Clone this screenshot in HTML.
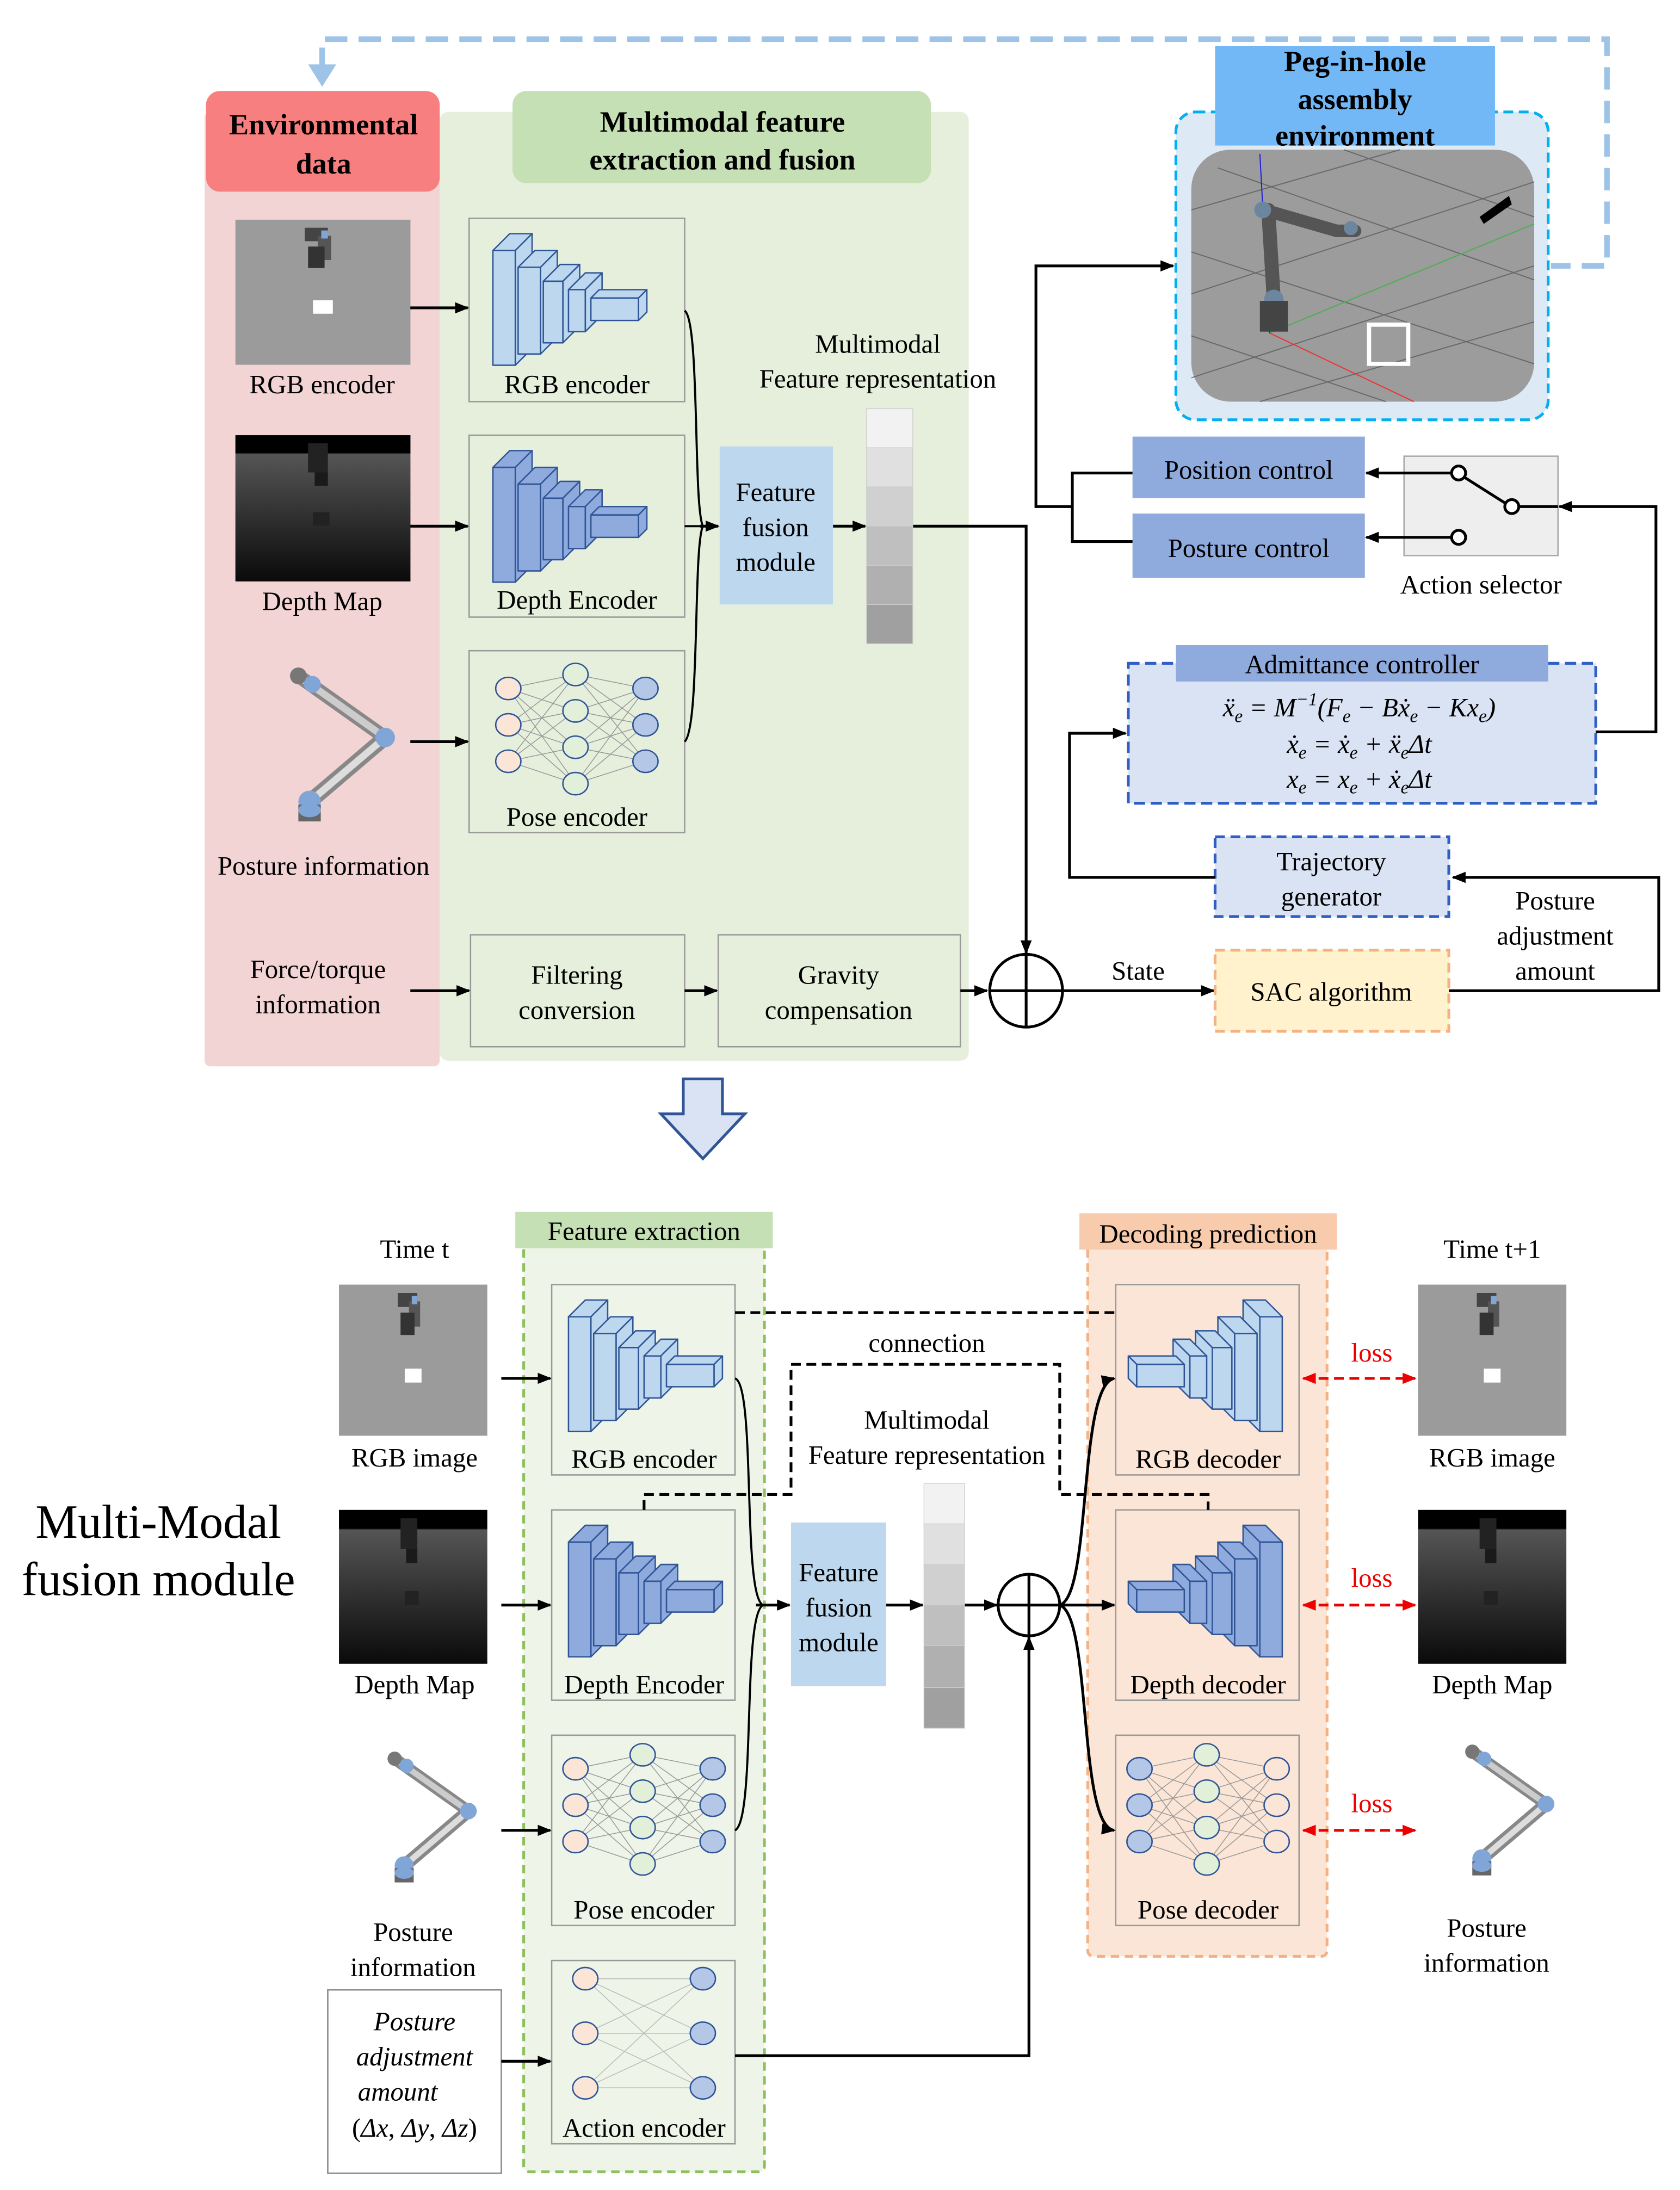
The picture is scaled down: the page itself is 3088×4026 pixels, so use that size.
<!DOCTYPE html>
<html><head><meta charset="utf-8"><style>
html,body{margin:0;padding:0;background:#fff}
svg{display:block}
text{font-family:"Liberation Serif",serif;fill:#000}
</style></head><body>
<svg width="3088" height="4026" viewBox="0 0 1200 1565" xmlns="http://www.w3.org/2000/svg">
<defs>
<marker id="ar" markerWidth="10" markerHeight="10" refX="9" refY="5" orient="auto" markerUnits="userSpaceOnUse"><path d="M0,1 L10,5 L0,9 z" fill="#000"/></marker>
<marker id="arr" markerWidth="10" markerHeight="10" refX="9" refY="5" orient="auto" markerUnits="userSpaceOnUse"><path d="M0,1 L10,5 L0,9 z" fill="#e00"/></marker>
<marker id="arrs" markerWidth="10" markerHeight="10" refX="1" refY="5" orient="auto" markerUnits="userSpaceOnUse"><path d="M10,1 L0,5 L10,9 z" fill="#e00"/></marker>
<linearGradient id="dep" x1="0" y1="0" x2="0" y2="1"><stop offset="0" stop-color="#000"/><stop offset="0.12" stop-color="#000"/><stop offset="0.13" stop-color="#555"/><stop offset="1" stop-color="#0a0a0a"/></linearGradient>
<symbol id="enc" overflow="visible">
<g stroke="#2f5597" stroke-width="1" stroke-linejoin="round">
<g fill="#bdd7ee"><polygon points="0,16 12,4 28,4 16,16"/><polygon points="16,16 28,4 28,86 16,98"/><rect x="0" y="16" width="16" height="82"/></g>
<g fill="#bdd7ee"><polygon points="18,28 30,16 46,16 34,28"/><polygon points="34,28 46,16 46,78 34,90"/><rect x="18" y="28" width="16" height="62"/></g>
<g fill="#bdd7ee"><polygon points="36,38 48,26 62,26 50,38"/><polygon points="50,38 62,26 62,70 50,82"/><rect x="36" y="38" width="14" height="44"/></g>
<g fill="#bdd7ee"><polygon points="54,44 66,32 78,32 66,44"/><polygon points="66,44 78,32 78,62 66,74"/><rect x="54" y="44" width="12" height="30"/></g>
<g fill="#bdd7ee"><polygon points="70,50 76,44 110,44 104,50"/><polygon points="104,50 110,44 110,60 104,66"/><rect x="70" y="50" width="34" height="16"/></g>
</g></symbol>
<symbol id="encd" overflow="visible">
<g stroke="#2f5597" stroke-width="1" stroke-linejoin="round" fill="#8faadc">
<polygon points="0,16 12,4 28,4 16,16"/><polygon points="16,16 28,4 28,86 16,98"/><rect x="0" y="16" width="16" height="82"/>
<polygon points="18,28 30,16 46,16 34,28"/><polygon points="34,28 46,16 46,78 34,90"/><rect x="18" y="28" width="16" height="62"/>
<polygon points="36,38 48,26 62,26 50,38"/><polygon points="50,38 62,26 62,70 50,82"/><rect x="36" y="38" width="14" height="44"/>
<polygon points="54,44 66,32 78,32 66,44"/><polygon points="66,44 78,32 78,62 66,74"/><rect x="54" y="44" width="12" height="30"/>
<polygon points="70,50 76,44 110,44 104,50"/><polygon points="104,50 110,44 110,60 104,66"/><rect x="70" y="50" width="34" height="16"/>
</g></symbol>
<symbol id="nn" overflow="visible">
<g stroke="#999" stroke-width="0.6">
<path d="M10,20L58,10M10,20L58,36M10,20L58,62M10,20L58,88M10,46L58,10M10,46L58,36M10,46L58,62M10,46L58,88M10,72L58,10M10,72L58,36M10,72L58,62M10,72L58,88M58,10L108,20M58,10L108,46M58,10L108,72M58,36L108,20M58,36L108,46M58,36L108,72M58,62L108,20M58,62L108,46M58,62L108,72M58,88L108,20M58,88L108,46M58,88L108,72"/>
</g>
<g stroke="#2f5597" stroke-width="1">
<ellipse cx="10" cy="20" rx="9" ry="8" fill="#fbe5d6"/><ellipse cx="10" cy="46" rx="9" ry="8" fill="#fbe5d6"/><ellipse cx="10" cy="72" rx="9" ry="8" fill="#fbe5d6"/>
<ellipse cx="58" cy="10" rx="9" ry="8" fill="#e2f0d9"/><ellipse cx="58" cy="36" rx="9" ry="8" fill="#e2f0d9"/><ellipse cx="58" cy="62" rx="9" ry="8" fill="#e2f0d9"/><ellipse cx="58" cy="88" rx="9" ry="8" fill="#e2f0d9"/>
<ellipse cx="108" cy="20" rx="9" ry="8" fill="#b4c7e7"/><ellipse cx="108" cy="46" rx="9" ry="8" fill="#b4c7e7"/><ellipse cx="108" cy="72" rx="9" ry="8" fill="#b4c7e7"/>
</g></symbol>
<symbol id="nnr" overflow="visible">
<g stroke="#999" stroke-width="0.6">
<path d="M10,20L58,10M10,20L58,36M10,20L58,62M10,20L58,88M10,46L58,10M10,46L58,36M10,46L58,62M10,46L58,88M10,72L58,10M10,72L58,36M10,72L58,62M10,72L58,88M58,10L108,20M58,10L108,46M58,10L108,72M58,36L108,20M58,36L108,46M58,36L108,72M58,62L108,20M58,62L108,46M58,62L108,72M58,88L108,20M58,88L108,46M58,88L108,72"/>
</g>
<g stroke="#2f5597" stroke-width="1">
<ellipse cx="10" cy="20" rx="9" ry="8" fill="#b4c7e7"/><ellipse cx="10" cy="46" rx="9" ry="8" fill="#b4c7e7"/><ellipse cx="10" cy="72" rx="9" ry="8" fill="#b4c7e7"/>
<ellipse cx="58" cy="10" rx="9" ry="8" fill="#e2f0d9"/><ellipse cx="58" cy="36" rx="9" ry="8" fill="#e2f0d9"/><ellipse cx="58" cy="62" rx="9" ry="8" fill="#e2f0d9"/><ellipse cx="58" cy="88" rx="9" ry="8" fill="#e2f0d9"/>
<ellipse cx="108" cy="20" rx="9" ry="8" fill="#fbe5d6"/><ellipse cx="108" cy="46" rx="9" ry="8" fill="#fbe5d6"/><ellipse cx="108" cy="72" rx="9" ry="8" fill="#fbe5d6"/>
</g></symbol>
<symbol id="arm" overflow="visible">
<g stroke-linecap="round">
<line x1="8" y1="8" x2="70" y2="52" stroke="#888" stroke-width="10"/>
<line x1="8" y1="8" x2="70" y2="52" stroke="#ccc" stroke-width="5"/>
<line x1="70" y1="52" x2="16" y2="98" stroke="#888" stroke-width="11"/>
<line x1="70" y1="52" x2="16" y2="98" stroke="#ddd" stroke-width="5"/>
</g>
<circle cx="8" cy="8" r="6" fill="#777"/><circle cx="18" cy="14" r="6" fill="#7fa6d6"/>
<circle cx="70" cy="52" r="7" fill="#7fa6d6"/>
<circle cx="16" cy="98" r="8" fill="#7fa6d6"/><rect x="8" y="100" width="16" height="12" fill="#666"/><ellipse cx="16" cy="104" rx="8" ry="5" fill="#7fa6d6"/>
</symbol>
<symbol id="rgbimg" overflow="visible">
<rect x="0" y="0" width="106" height="108" fill="#9b9b9b"/>
<rect x="42" y="6" width="14" height="10" fill="#444"/><rect x="50" y="12" width="8" height="18" fill="#555"/><rect x="44" y="20" width="10" height="16" fill="#333"/><rect x="52" y="8" width="4" height="6" fill="#7fa6d6"/>
<rect x="47" y="60" width="12" height="10" fill="#fff"/>
</symbol>
<symbol id="depimg" overflow="visible">
<rect x="0" y="0" width="106" height="110" fill="url(#dep)"/>
<rect x="44" y="6" width="12" height="22" fill="#222"/><rect x="48" y="28" width="8" height="10" fill="#1a1a1a"/><rect x="47" y="58" width="10" height="10" fill="#222"/>
</symbol>
</defs>

<!-- feedback dashed -->
<path d="M230,50 L230,28 L1148,28 L1148,190 L1108,190" fill="none" stroke="#9dc3e6" stroke-width="4" stroke-dasharray="16,8"/>
<polygon points="220,46 240,46 230,62" fill="#9dc3e6"/>

<!-- panels -->
<rect x="146" y="80" width="168" height="682" rx="4" fill="#f2d4d4"/>
<rect x="314" y="80" width="378" height="678" rx="6" fill="#e6efdc"/>
<rect x="147" y="65" width="167" height="72" rx="10" fill="#f77f7f"/>
<text x="231" y="96" font-size="21" font-weight="bold" text-anchor="middle">Environmental</text>
<text x="231" y="124" font-size="21" font-weight="bold" text-anchor="middle">data</text>
<rect x="366" y="65" width="299" height="66" rx="10" fill="#c5e0b4"/>
<text x="516" y="94" font-size="21" font-weight="bold" text-anchor="middle">Multimodal feature</text>
<text x="516" y="121" font-size="21" font-weight="bold" text-anchor="middle">extraction and fusion</text>

<use href="#rgbimg" x="168" y="157" transform="translate(168,157) scale(1.18,0.96) translate(-168,-157)"/>
<text x="230" y="281" font-size="19" text-anchor="middle">RGB encoder</text>
<use href="#depimg" x="168" y="311" transform="translate(168,311) scale(1.18,0.95) translate(-168,-311)"/>
<text x="230" y="436" font-size="19" text-anchor="middle">Depth Map</text>
<use href="#arm" x="205" y="475" transform="translate(205,475) scale(1.0) translate(-205,-475)"/>
<text x="231" y="625" font-size="19" text-anchor="middle">Posture information</text>
<text x="227" y="699" font-size="19" text-anchor="middle">Force/torque</text>
<text x="227" y="724" font-size="19" text-anchor="middle">information</text>

<g fill="none" stroke="#999" stroke-width="1">
<rect x="335" y="156" width="154" height="131"/>
<rect x="335" y="311" width="154" height="130"/>
<rect x="335" y="465" width="154" height="130"/>
<rect x="336" y="668" width="153" height="80"/>
<rect x="513" y="668" width="173" height="80"/>
</g>
<use href="#enc" x="352" y="163"/>
<use href="#encd" x="352" y="318"/>
<use href="#nn" x="353" y="472"/>
<text x="412" y="281" font-size="19" text-anchor="middle">RGB encoder</text>
<text x="412" y="435" font-size="19" text-anchor="middle">Depth Encoder</text>
<text x="412" y="590" font-size="19" text-anchor="middle">Pose encoder</text>
<text x="412" y="703" font-size="19" text-anchor="middle">Filtering</text>
<text x="412" y="728" font-size="19" text-anchor="middle">conversion</text>
<text x="599" y="703" font-size="19" text-anchor="middle">Gravity</text>
<text x="599" y="728" font-size="19" text-anchor="middle">compensation</text>

<g stroke="#000" stroke-width="2" fill="none" marker-end="url(#ar)">
<line x1="293" y1="220" x2="334" y2="220"/>
<line x1="293" y1="376" x2="334" y2="376"/>
<line x1="293" y1="530" x2="334" y2="530"/>
<line x1="293" y1="708" x2="335" y2="708"/>
<line x1="489" y1="708" x2="512" y2="708"/>
<line x1="686" y1="708" x2="705" y2="708"/>
<line x1="595" y1="376" x2="618" y2="376"/>
<line x1="500" y1="376" x2="513" y2="376"/>
<path d="M652,376 L733,376 L733,681"/>
<line x1="760" y1="708" x2="867" y2="708"/>
</g>
<g stroke="#000" stroke-width="1.5" fill="none">
<path d="M489,222 C500,230 495,360 502,376"/>
<path d="M489,530 C500,520 495,392 502,376"/>
<path d="M489,376 L502,376"/>
</g>
<rect x="514" y="319" width="81" height="113" fill="#bdd7ee"/>
<text x="554" y="358" font-size="19" text-anchor="middle">Feature</text>
<text x="554" y="383" font-size="19" text-anchor="middle">fusion</text>
<text x="554" y="408" font-size="19" text-anchor="middle">module</text>
<g stroke="#ccc" stroke-width="0.5">
<rect x="619" y="292" width="33" height="28" fill="#f2f2f2"/>
<rect x="619" y="320" width="33" height="28" fill="#e0e0e0"/>
<rect x="619" y="348" width="33" height="28" fill="#d0d0d0"/>
<rect x="619" y="376" width="33" height="28" fill="#bfbfbf"/>
<rect x="619" y="404" width="33" height="28" fill="#b0b0b0"/>
<rect x="619" y="432" width="33" height="28" fill="#a0a0a0"/>
</g>
<text x="627" y="252" font-size="19" text-anchor="middle">Multimodal</text>
<text x="627" y="277" font-size="19" text-anchor="middle">Feature representation</text>
<circle cx="733" cy="708" r="26" fill="none" stroke="#000" stroke-width="2"/>
<path d="M707,708 L759,708 M733,682 L733,734" stroke="#000" stroke-width="2"/>
<text x="813" y="700" font-size="19" text-anchor="middle">State</text>

<!-- right side -->
<rect x="868" y="679" width="167" height="58" fill="#fff2cc" stroke="#f4b183" stroke-width="2" stroke-dasharray="7,4"/>
<text x="951" y="715" font-size="19" text-anchor="middle">SAC algorithm</text>
<path d="M1035,708 L1185,708 L1185,627 L1038,627" fill="none" stroke="#000" stroke-width="2" marker-end="url(#ar)"/>
<text x="1111" y="650" font-size="19" text-anchor="middle">Posture</text>
<text x="1111" y="675" font-size="19" text-anchor="middle">adjustment</text>
<text x="1111" y="700" font-size="19" text-anchor="middle">amount</text>
<rect x="868" y="598" width="167" height="57" fill="#dae3f3" stroke="#2f5fc4" stroke-width="2" stroke-dasharray="7,4"/>
<text x="951" y="622" font-size="19" text-anchor="middle">Trajectory</text>
<text x="951" y="647" font-size="19" text-anchor="middle">generator</text>
<path d="M868,627 L764,627 L764,524 L804,524" fill="none" stroke="#000" stroke-width="2" marker-end="url(#ar)"/>
<rect x="806" y="474" width="334" height="100" fill="#dae3f3" stroke="#2f5fc4" stroke-width="2" stroke-dasharray="8,4"/>
<rect x="840" y="461" width="266" height="26" fill="#8faadc"/>
<text x="973" y="481" font-size="19" text-anchor="middle">Admittance controller</text>
<text x="971" y="512" font-size="19" text-anchor="middle" font-style="italic">ẍ<tspan font-size="13" dy="4">e</tspan><tspan dy="-4"> = M</tspan><tspan font-size="13" dy="-8">−1</tspan><tspan dy="8">(F</tspan><tspan font-size="13" dy="4">e</tspan><tspan dy="-4"> − Bẋ</tspan><tspan font-size="13" dy="4">e</tspan><tspan dy="-4"> − Kx</tspan><tspan font-size="13" dy="4">e</tspan><tspan dy="-4">)</tspan></text>
<text x="971" y="538" font-size="19" text-anchor="middle" font-style="italic">ẋ<tspan font-size="13" dy="4">e</tspan><tspan dy="-4"> = ẋ</tspan><tspan font-size="13" dy="4">e</tspan><tspan dy="-4"> + ẍ</tspan><tspan font-size="13" dy="4">e</tspan><tspan dy="-4">Δt</tspan></text>
<text x="971" y="563" font-size="19" text-anchor="middle" font-style="italic">x<tspan font-size="13" dy="4">e</tspan><tspan dy="-4"> = x</tspan><tspan font-size="13" dy="4">e</tspan><tspan dy="-4"> + ẋ</tspan><tspan font-size="13" dy="4">e</tspan><tspan dy="-4">Δt</tspan></text>
<path d="M1140,523 L1183,523 L1183,362 L1114,362" fill="none" stroke="#000" stroke-width="2" marker-end="url(#ar)"/>
<rect x="1003" y="326" width="110" height="71" fill="#eeeeee" stroke="#aaa"/>
<circle cx="1042" cy="338" r="5" fill="#fff" stroke="#000" stroke-width="2"/>
<circle cx="1042" cy="384" r="5" fill="#fff" stroke="#000" stroke-width="2"/>
<circle cx="1080" cy="362" r="5" fill="#fff" stroke="#000" stroke-width="2"/>
<line x1="1046" y1="341" x2="1076" y2="360" stroke="#000" stroke-width="2"/>
<line x1="1085" y1="362" x2="1113" y2="362" stroke="#000" stroke-width="2"/>
<line x1="1037" y1="338" x2="976" y2="338" stroke="#000" stroke-width="2" marker-end="url(#ar)"/>
<line x1="1037" y1="384" x2="976" y2="384" stroke="#000" stroke-width="2" marker-end="url(#ar)"/>
<text x="1058" y="424" font-size="19" text-anchor="middle">Action selector</text>
<rect x="809" y="312" width="166" height="44" fill="#8faadc"/>
<text x="892" y="342" font-size="19" text-anchor="middle">Position control</text>
<rect x="809" y="367" width="166" height="46" fill="#8faadc"/>
<text x="892" y="398" font-size="19" text-anchor="middle">Posture control</text>
<path d="M809,338 L766,338 L766,387 L809,387 M766,362 L740,362 L740,190 L838,190" fill="none" stroke="#000" stroke-width="2" marker-end="url(#ar)"/>

<!-- environment -->
<rect x="840" y="80" width="266" height="220" rx="14" fill="#dde9f5" stroke="#00b0f0" stroke-width="2" stroke-dasharray="7,4"/>
<rect x="851" y="107" width="245" height="180" rx="28" fill="#9c9c9c"/>
<g stroke="#555" stroke-width="0.8" opacity="0.7">
<line x1="851" y1="150" x2="1000" y2="107"/><line x1="851" y1="210" x2="1096" y2="130"/><line x1="851" y1="270" x2="1096" y2="190"/><line x1="900" y1="287" x2="1096" y2="230"/>
<line x1="870" y1="120" x2="1096" y2="200"/><line x1="851" y1="180" x2="1096" y2="260"/><line x1="960" y1="107" x2="1096" y2="155"/><line x1="851" y1="240" x2="990" y2="287"/>
</g>
<line x1="907" y1="238" x2="1096" y2="160" stroke="#4caf50" stroke-width="0.8"/>
<line x1="907" y1="238" x2="1010" y2="287" stroke="#e33" stroke-width="0.8"/>
<line x1="900" y1="110" x2="907" y2="238" stroke="#22d" stroke-width="0.8"/>
<g stroke="#555" stroke-linecap="round"><line x1="906" y1="150" x2="910" y2="215" stroke-width="10"/><line x1="903" y1="150" x2="955" y2="165" stroke-width="9"/><line x1="955" y1="165" x2="968" y2="165" stroke-width="9"/></g>
<circle cx="902" cy="150" r="6" fill="#6d86a0"/><circle cx="910" cy="214" r="7" fill="#6d86a0"/><circle cx="965" cy="163" r="5" fill="#6d86a0"/>
<rect x="900" y="215" width="20" height="22" fill="#444"/>
<rect x="978" y="232" width="28" height="28" fill="none" stroke="#fff" stroke-width="3"/>
<polygon points="1057,155 1078,140 1080,146 1060,160" fill="#000"/>
<rect x="868" y="33" width="200" height="71" fill="#72b8f6"/>
<text x="968" y="51" font-size="21" font-weight="bold" text-anchor="middle">Peg-in-hole</text>
<text x="968" y="78" font-size="21" font-weight="bold" text-anchor="middle">assembly</text>
<text x="968" y="104" font-size="21" font-weight="bold" text-anchor="middle">environment</text>

<!-- big down arrow -->
<polygon points="488,771 516,771 516,796 532,796 502,828 472,796 488,796" fill="#dae3f3" stroke="#2f5597" stroke-width="2"/>

<!-- bottom -->
<text x="113" y="1099" font-size="34" text-anchor="middle">Multi-Modal</text>
<text x="113" y="1140" font-size="34" text-anchor="middle">fusion module</text>
<text x="296" y="899" font-size="19" text-anchor="middle">Time t</text>
<use href="#rgbimg" x="242" y="918"/>
<text x="296" y="1048" font-size="19" text-anchor="middle">RGB image</text>
<use href="#depimg" x="242" y="1079"/>
<text x="296" y="1210" font-size="19" text-anchor="middle">Depth Map</text>
<use href="#arm" x="275" y="1250" transform="translate(275,1250) scale(0.85) translate(-275,-1250)"/>
<text x="295" y="1387" font-size="19" text-anchor="middle">Posture</text>
<text x="295" y="1412" font-size="19" text-anchor="middle">information</text>
<rect x="234" y="1422" width="124" height="131" fill="#fff" stroke="#888"/>
<text x="296" y="1451" font-size="19" text-anchor="middle" font-style="italic">Posture</text>
<text x="296" y="1476" font-size="19" text-anchor="middle" font-style="italic">adjustment</text>
<text x="284" y="1501" font-size="19" text-anchor="middle" font-style="italic">amount</text>
<text x="296" y="1527" font-size="19" text-anchor="middle">(<tspan font-style="italic">Δx</tspan>, <tspan font-style="italic">Δy</tspan>, <tspan font-style="italic">Δz</tspan>)</text>

<rect x="374" y="880" width="172" height="672" rx="4" fill="#eef5e8" stroke="#8fc060" stroke-width="2" stroke-dasharray="6,4"/>
<rect x="368" y="866" width="184" height="26" fill="#c5e0b4"/>
<text x="460" y="886" font-size="19" text-anchor="middle">Feature extraction</text>
<rect x="777" y="880" width="171" height="518" rx="4" fill="#fbe5d6" stroke="#f4b183" stroke-width="2" stroke-dasharray="6,4"/>
<rect x="771" y="867" width="184" height="26" fill="#f8cbad"/>
<text x="863" y="888" font-size="19" text-anchor="middle">Decoding prediction</text>

<g fill="none" stroke="#999" stroke-width="1">
<rect x="394" y="918" width="131" height="136"/>
<rect x="394" y="1079" width="131" height="136"/>
<rect x="394" y="1240" width="131" height="136"/>
<rect x="394" y="1401" width="131" height="131"/>
<rect x="797" y="918" width="131" height="136"/>
<rect x="797" y="1079" width="131" height="136"/>
<rect x="797" y="1240" width="131" height="136"/>
</g>
<use href="#enc" x="406" y="925"/>
<use href="#encd" x="406" y="1086"/>
<use href="#nn" x="401" y="1244"/>
<g transform="translate(916,925) scale(-1,1)"><use href="#enc"/></g>
<g transform="translate(916,1086) scale(-1,1)"><use href="#encd"/></g>
<use href="#nnr" x="804" y="1244"/>
<!-- action encoder -->
<g stroke="#bbb" stroke-width="0.6"><path d="M418,1414L502,1414M418,1414L502,1453M418,1414L502,1492M418,1453L502,1414M418,1453L502,1453M418,1453L502,1492M418,1492L502,1414M418,1492L502,1453M418,1492L502,1492"/></g>
<g stroke="#2f5597"><ellipse cx="418" cy="1414" rx="9" ry="8" fill="#fbe5d6"/><ellipse cx="418" cy="1453" rx="9" ry="8" fill="#fbe5d6"/><ellipse cx="418" cy="1492" rx="9" ry="8" fill="#fbe5d6"/>
<ellipse cx="502" cy="1414" rx="9" ry="8" fill="#b4c7e7"/><ellipse cx="502" cy="1453" rx="9" ry="8" fill="#b4c7e7"/><ellipse cx="502" cy="1492" rx="9" ry="8" fill="#b4c7e7"/></g>

<text x="460" y="1049" font-size="19" text-anchor="middle">RGB encoder</text>
<text x="460" y="1210" font-size="19" text-anchor="middle">Depth Encoder</text>
<text x="460" y="1371" font-size="19" text-anchor="middle">Pose encoder</text>
<text x="460" y="1527" font-size="19" text-anchor="middle">Action encoder</text>
<text x="863" y="1049" font-size="19" text-anchor="middle">RGB decoder</text>
<text x="863" y="1210" font-size="19" text-anchor="middle">Depth decoder</text>
<text x="863" y="1371" font-size="19" text-anchor="middle">Pose decoder</text>

<g stroke="#000" stroke-width="2" fill="none" marker-end="url(#ar)">
<line x1="358" y1="985" x2="393" y2="985"/>
<line x1="358" y1="1147" x2="393" y2="1147"/>
<line x1="358" y1="1308" x2="393" y2="1308"/>
<line x1="358" y1="1473" x2="393" y2="1473"/>
<line x1="540" y1="1147" x2="564" y2="1147"/>
<line x1="633" y1="1147" x2="659" y2="1147"/>
<line x1="689" y1="1147" x2="712" y2="1147"/>
<path d="M525,1469 L735,1469 L735,1170"/>
<path d="M757,1147 C780,1140 770,990 796,985"/>
<path d="M757,1147 L796,1147"/>
<path d="M757,1147 C780,1155 770,1305 796,1308"/>
</g>
<g stroke="#000" stroke-width="1.5" fill="none">
<path d="M525,985 C540,990 530,1140 545,1147"/>
<path d="M525,1308 C540,1300 530,1155 545,1147"/>
</g>
<g stroke="#000" stroke-width="2" fill="none" stroke-dasharray="7,4">
<path d="M525,938 L797,938"/>
<path d="M460,1079 L460,1068 L565,1068 L565,975 L757,975 L757,1068 L863,1068 L863,1079"/>
</g>
<text x="662" y="966" font-size="19" text-anchor="middle">connection</text>
<text x="662" y="1021" font-size="19" text-anchor="middle">Multimodal</text>
<text x="662" y="1046" font-size="19" text-anchor="middle">Feature representation</text>
<rect x="565" y="1088" width="68" height="117" fill="#bdd7ee"/>
<text x="599" y="1130" font-size="19" text-anchor="middle">Feature</text>
<text x="599" y="1155" font-size="19" text-anchor="middle">fusion</text>
<text x="599" y="1180" font-size="19" text-anchor="middle">module</text>
<g stroke="#ccc" stroke-width="0.5">
<rect x="660" y="1060" width="29" height="29" fill="#f2f2f2"/>
<rect x="660" y="1089" width="29" height="29" fill="#e0e0e0"/>
<rect x="660" y="1118" width="29" height="29" fill="#d0d0d0"/>
<rect x="660" y="1147" width="29" height="29" fill="#bfbfbf"/>
<rect x="660" y="1176" width="29" height="30" fill="#b0b0b0"/>
<rect x="660" y="1206" width="29" height="29" fill="#a0a0a0"/>
</g>
<circle cx="735" cy="1147" r="22" fill="none" stroke="#000" stroke-width="2"/>
<path d="M713,1147 L757,1147 M735,1125 L735,1169" stroke="#000" stroke-width="2"/>

<g stroke="#e00" stroke-width="2" stroke-dasharray="7,4" marker-end="url(#arr)" marker-start="url(#arrs)">
<line x1="931" y1="985" x2="1011" y2="985"/>
<line x1="931" y1="1147" x2="1011" y2="1147"/>
<line x1="931" y1="1308" x2="1011" y2="1308"/>
</g>
<text x="980" y="973" font-size="19" text-anchor="middle" style="fill:#e00">loss</text>
<text x="980" y="1134" font-size="19" text-anchor="middle" style="fill:#e00">loss</text>
<text x="980" y="1295" font-size="19" text-anchor="middle" style="fill:#e00">loss</text>

<text x="1066" y="899" font-size="19" text-anchor="middle">Time t+1</text>
<use href="#rgbimg" x="1013" y="918"/>
<text x="1066" y="1048" font-size="19" text-anchor="middle">RGB image</text>
<use href="#depimg" x="1013" y="1079"/>
<text x="1066" y="1210" font-size="19" text-anchor="middle">Depth Map</text>
<use href="#arm" x="1045" y="1245" transform="translate(1045,1245) scale(0.85) translate(-1045,-1245)"/>
<text x="1062" y="1384" font-size="19" text-anchor="middle">Posture</text>
<text x="1062" y="1409" font-size="19" text-anchor="middle">information</text>
</svg>
</body></html>
